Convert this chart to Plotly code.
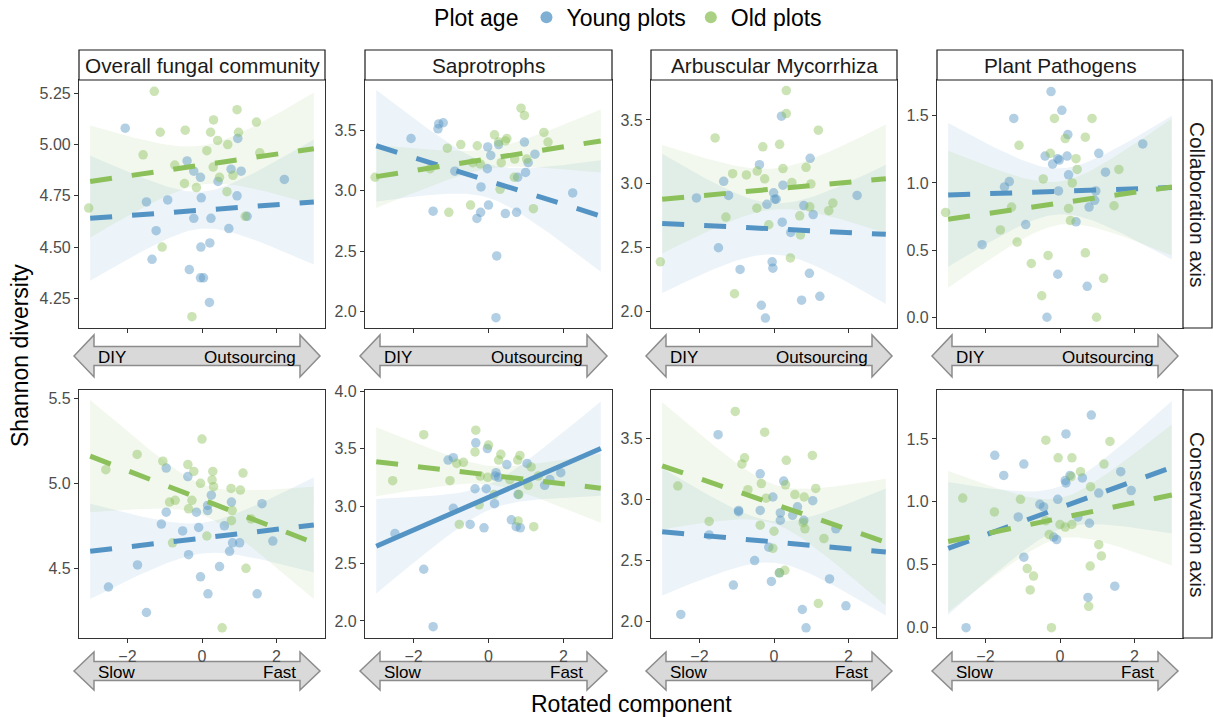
import numpy as np
import plotly.graph_objects as go

W, H = 1213, 717

# ---------------- data ----------------
GROUPS = ["Young plots", "Old plots"]
PANEL_TITLES = ["Overall fungal community", "Saprotrophs", "Arbuscular Mycorrhiza", "Plant Pathogens"]
ROW_TITLES = ["Collaboration axis", "Conservation axis"]
ARROW_LEFT = ["DIY", "Slow"]
ARROW_RIGHT = ["Outsourcing", "Fast"]
X_TICKS = [-2, 0, 2]
X_TICK_TEXT = ["\u22122", "0", "2"]
X_RANGE = [-3.3, 3.3]
Y_RANGES = [[4.105, 5.315], [1.865, 3.913], [1.872, 3.813], [-0.080, 1.766],
            [4.090, 5.549], [1.852, 4.009], [1.867, 3.895], [-0.082, 1.889]]
Y_TICKS = [[4.25, 4.5, 4.75, 5.0, 5.25], [2.0, 2.5, 3.0, 3.5], [2.0, 2.5, 3.0, 3.5], [0.0, 0.5, 1.0, 1.5],
           [4.5, 5.0, 5.5], [2.0, 2.5, 3.0, 3.5, 4.0], [2.0, 2.5, 3.0, 3.5], [0.0, 0.5, 1.0, 1.5]]
Y_FMT = [".2f", ".1f", ".1f", ".1f", ".1f", ".1f", ".1f", ".1f"]

young_x_1 = [-2.06,-0.40,-0.22,-0.04,0.96,0.78,1.05,0.43,2.21,-0.02,0.94,-1.49,-0.92,-0.22,0.24,1.21,-1.23,0.72,-0.03,0.21,-1.34,-0.34,-0.04,0.04,0.20]
young_y_1 = [5.08,4.92,4.87,4.84,5.03,4.88,4.87,4.82,4.83,4.74,4.75,4.72,4.73,4.64,4.64,4.65,4.58,4.59,4.50,4.52,4.44,4.39,4.35,4.35,4.23]
old_x_1 = [-1.28,0.94,0.31,1.46,-1.12,-0.45,0.23,0.98,0.42,0.69,0.13,1.55,-1.58,-0.73,0.30,0.47,0.83,-0.47,-0.15,0.67,-3.04,1.16,-1.07,-0.27]
old_y_1 = [5.26,5.17,5.12,5.11,5.06,5.07,5.06,5.06,5.02,5.00,4.97,4.96,4.95,4.90,4.89,4.84,4.85,4.81,4.79,4.77,4.69,4.65,4.50,4.16]

young_x_2 = [-2.07,-1.33,-1.21,-1.35,-0.90,-0.02,0.06,0.27,-0.03,0.96,1.06,1.24,0.99,0.78,-0.20,2.25,-1.48,-0.21,-0.31,0.00,0.45,0.75,0.22,0.20]
young_y_2 = [3.43,3.55,3.56,3.51,3.16,3.36,3.29,3.38,3.18,3.40,3.23,3.30,3.15,3.11,3.03,2.98,2.83,2.82,2.77,2.88,2.81,2.82,2.46,1.95]
old_x_2 = [-3.03,-1.56,-1.10,-0.74,-0.30,-0.42,-0.22,0.16,0.27,0.45,0.49,0.34,0.31,0.87,0.96,0.70,1.02,0.69,1.48,1.59,-0.48,-1.06,1.20]
old_y_2 = [3.11,3.18,3.35,3.38,3.37,3.23,3.22,3.46,3.40,3.41,3.43,3.23,3.01,3.68,3.62,3.26,3.26,3.11,3.48,3.40,2.88,2.82,2.85]

young_x_3 = [-2.08,-1.35,-1.22,-1.49,-0.91,-0.39,-0.19,-0.01,0.02,0.06,0.24,0.20,0.22,0.45,0.80,1.05,0.97,2.23,-0.05,-0.03,0.95,-0.34,-0.23,0.74,1.23]
young_y_3 = [2.89,3.02,2.91,2.50,2.33,3.15,2.84,2.93,2.88,2.88,2.99,3.53,2.70,2.62,2.83,2.76,3.20,2.91,2.39,2.34,2.30,2.05,1.95,2.09,2.12]
old_x_3 = [-3.05,-1.58,-1.29,-1.11,-0.74,-0.45,-0.30,-0.25,-0.46,-0.14,0.15,0.24,0.33,0.33,0.48,0.44,0.86,0.99,0.96,0.69,0.71,1.19,1.58,1.47,-1.06]
old_y_3 = [2.39,3.36,2.74,3.08,3.07,3.10,3.29,3.04,2.81,2.68,3.31,3.12,3.73,3.55,3.01,2.42,3.13,3.00,2.82,2.75,2.60,3.42,2.85,2.79,2.14]

young_x_4 = [-0.24,0.05,-1.24,0.21,-0.40,-0.20,-0.06,0.19,-0.02,1.04,1.22,0.23,2.22,-1.36,-1.49,-0.04,0.96,0.93,0.78,-0.92,0.43,-2.09,-0.06,0.73,-0.35]
young_y_4 = [1.68,1.54,1.48,1.36,1.20,1.14,1.18,1.20,1.17,1.22,1.08,1.06,1.29,1.01,0.97,0.94,0.94,0.87,0.82,0.69,0.71,0.54,0.32,0.23,0.00]
old_x_4 = [-3.07,-0.15,0.86,0.14,0.68,-1.10,-0.26,0.43,0.46,1.58,-0.45,0.33,-1.30,0.23,1.45,-1.60,0.28,-1.15,-0.32,-0.77,0.68,1.17,-0.49,0.98]
old_y_4 = [0.78,1.48,1.48,1.33,1.34,1.28,1.22,1.18,1.10,1.10,1.03,1.00,0.82,0.81,0.83,0.65,0.72,0.56,0.46,0.40,0.48,0.29,0.16,0.00]

young_x_5 = [-0.96,-0.38,0.25,0.79,1.61,-0.96,0.15,0.15,-0.15,-1.09,-0.52,-0.09,0.60,0.82,1.01,0.74,1.90,-0.36,-1.73,0.47,-2.51,-0.04,0.16,1.48,-1.49]
young_y_5 = [5.09,5.04,4.93,4.89,4.88,4.83,4.87,4.84,4.83,4.76,4.72,4.74,4.75,4.65,4.65,4.60,4.66,4.58,4.52,4.51,4.39,4.45,4.35,4.35,4.24]
old_x_5 = [-2.58,-1.74,-1.05,-0.38,-0.22,0.00,0.29,0.27,0.31,-0.04,1.10,0.78,1.03,-0.87,-0.72,-0.27,-0.36,0.81,0.79,1.32,-0.79,0.13,1.18,0.54]
old_y_5 = [5.08,5.17,5.13,5.11,5.07,5.26,5.07,5.02,4.98,5.00,5.06,4.97,4.96,4.89,4.90,4.90,4.85,4.84,4.78,4.79,4.65,4.69,4.50,4.15]

young_x_6 = [-2.50,-1.73,-1.48,-1.08,-0.94,-0.94,-0.34,-0.03,-0.36,-0.06,-0.49,-0.12,0.20,0.18,0.27,0.16,0.49,0.61,0.79,0.74,0.85,1.03,1.50,1.64,1.93]
young_y_6 = [2.76,2.45,1.95,3.40,3.42,2.98,3.55,3.50,3.15,3.15,2.84,2.81,3.29,3.26,3.25,3.02,3.36,2.88,3.10,2.82,2.81,3.37,3.18,3.23,3.29]
old_x_6 = [-2.56,-1.73,-1.03,-0.85,-0.67,-0.78,-0.34,-0.36,-0.25,0.00,-0.22,-0.02,0.15,0.33,0.27,0.57,0.84,0.78,0.81,1.06,1.14,0.79,1.21,1.33]
old_y_6 = [3.22,3.62,3.22,3.37,3.38,2.84,3.66,3.47,3.01,3.53,3.26,3.25,3.10,3.45,3.40,3.23,3.44,3.40,3.10,3.18,3.34,2.87,2.82,3.26]

young_x_7 = [-2.50,-1.50,-1.74,-0.95,-0.95,-1.09,-0.52,-0.37,-0.37,-0.03,-0.14,-0.07,0.17,0.17,0.26,0.50,0.63,0.80,1.04,0.15,0.76,0.86,1.49,1.66,1.93]
young_y_7 = [2.06,3.53,2.71,2.91,2.90,2.30,2.50,3.21,2.91,3.02,2.61,2.33,2.89,2.83,3.15,2.87,2.94,2.83,2.99,2.40,2.10,1.95,2.35,2.76,2.13]
old_x_7 = [-2.58,-1.04,-0.25,-0.79,-0.86,-1.74,-0.70,-0.34,-0.21,-0.37,0.00,-0.03,0.33,0.31,0.56,0.81,1.12,1.03,0.78,0.83,1.34,0.29,0.14,1.19]
old_y_7 = [3.11,3.72,3.55,3.34,3.29,2.82,3.08,3.13,3.01,2.79,2.74,2.60,3.32,3.12,3.04,3.02,3.09,3.36,2.81,2.76,2.68,2.42,2.40,2.15]

young_x_8 = [-2.52,-1.75,-1.51,-0.97,-1.12,-0.97,-0.54,-0.44,-0.06,-0.17,-0.09,0.16,0.14,0.16,0.27,0.60,0.48,0.79,0.84,1.04,1.63,1.91,0.75,1.47]
young_y_8 = [0.00,1.37,1.21,1.30,0.88,0.56,0.98,0.96,1.02,0.72,0.70,1.54,1.17,1.15,1.21,1.19,0.88,0.83,1.69,1.07,1.24,1.09,0.24,0.33]
old_x_8 = [-2.61,-1.76,-1.06,-0.38,-0.05,0.32,0.55,0.30,0.82,1.18,1.34,-0.38,0.00,0.14,0.32,-0.29,-0.88,-0.71,-0.80,1.04,1.11,0.81,0.77,-0.23]
old_y_8 = [1.03,0.92,1.02,1.49,1.35,1.35,1.24,1.20,1.12,1.30,1.48,0.85,0.82,0.80,0.82,0.74,0.47,0.41,0.30,0.66,0.57,0.49,0.17,0.00]

# fitted line values at x = -3 and x = +3
FIT_X = [-3.0, 3.0]
YOUNG_FIT = [[4.64, 4.72], [3.37, 2.79], [2.69, 2.605], [0.91, 0.965],
             [4.60, 4.755], [2.65, 3.50], [2.735, 2.57], [0.63, 1.275]]
OLD_FIT = [[4.82, 4.98], [3.115, 3.41], [2.88, 3.04], [0.73, 0.97],
           [5.16, 4.65], [3.385, 3.155], [3.275, 2.65], [0.685, 1.055]]
# confidence-band half widths: at centre, at the ends
YOUNG_BAND = [[0.09, 0.305], [0.14, 0.46], [0.20, 0.545], [0.17, 0.535],
              [0.09, 0.28], [0.11, 0.41], [0.17, 0.52], [0.17, 0.527]]
OLD_BAND = [[0.095, 0.273], [0.08, 0.26], [0.16, 0.425], [0.16, 0.51],
            [0.09, 0.33], [0.08, 0.30], [0.16, 0.52], [0.16, 0.56]]
YOUNG_SIGNIF = [False, False, False, False, False, True, False, False]
OLD_SIGNIF = [False] * 8

YOUNG_X = [young_x_1, young_x_2, young_x_3, young_x_4, young_x_5, young_x_6, young_x_7, young_x_8]
YOUNG_Y = [young_y_1, young_y_2, young_y_3, young_y_4, young_y_5, young_y_6, young_y_7, young_y_8]
OLD_X = [old_x_1, old_x_2, old_x_3, old_x_4, old_x_5, old_x_6, old_x_7, old_x_8]
OLD_Y = [old_y_1, old_y_2, old_y_3, old_y_4, old_y_5, old_y_6, old_y_7, old_y_8]

# ---------------- style / layout ----------------
BLUE = (84, 148, 196)
GREEN = (140, 192, 90)
FONT = "Liberation Sans, Arial, sans-serif"
COLS_PX = [(79, 325), (365, 612), (651, 897), (937, 1183)]
ROWS_PX = [(80, 328), (390, 638)]


def px(x):
    return x / W


def py(y):
    return 1 - y / H


def rgba(c, a):
    return f"rgba({c[0]},{c[1]},{c[2]},{a})"


def note(text, x, y, size, color="black", xanchor="center", angle=0):
    return dict(text=text, x=px(x), y=py(y), xref="paper", yref="paper", showarrow=False,
                xanchor=xanchor, yanchor="middle", textangle=angle,
                font=dict(family=FONT, size=size, color=color))


fig = go.Figure()
layout = {}
shapes = []
annotations = []

for k in range(8):
    r, c = divmod(k, 4)
    n = k + 1
    xa = "x" if n == 1 else f"x{n}"
    ya = "y" if n == 1 else f"y{n}"
    L, R = COLS_PX[c]
    T, B = ROWS_PX[r]

    groups = [
        (YOUNG_X[k], YOUNG_Y[k], YOUNG_FIT[k], YOUNG_BAND[k], YOUNG_SIGNIF[k], BLUE),
        (OLD_X[k], OLD_Y[k], OLD_FIT[k], OLD_BAND[k], OLD_SIGNIF[k], GREEN),
    ]
    # ribbons
    for gx, gy, fit, band, sig, col in groups:
        xs = np.linspace(FIT_X[0], FIT_X[1], 61)
        slope = (fit[1] - fit[0]) / (FIT_X[1] - FIT_X[0])
        mid = fit[0] + slope * (0 - FIT_X[0])
        yc = mid + slope * xs
        hw = np.sqrt(band[0] ** 2 + (band[1] ** 2 - band[0] ** 2) * (xs / FIT_X[1]) ** 2)
        fig.add_trace(go.Scatter(
            x=np.concatenate([xs, xs[::-1]]), y=np.concatenate([yc + hw, (yc - hw)[::-1]]),
            fill="toself", fillcolor=rgba(col, 0.11), line=dict(width=0),
            mode="lines", hoverinfo="skip", showlegend=False, xaxis=xa, yaxis=ya))
    # points
    for gx, gy, fit, band, sig, col in groups:
        fig.add_trace(go.Scatter(
            x=gx, y=gy, mode="markers",
            marker=dict(size=9.5, color=rgba(col, 0.45), line=dict(width=0)),
            showlegend=False, xaxis=xa, yaxis=ya))
    # fitted lines
    for gx, gy, fit, band, sig, col in groups:
        fig.add_trace(go.Scatter(
            x=FIT_X, y=fit, mode="lines",
            line=dict(color=rgba(col, 1), width=5, dash="solid" if sig else "22px,20px"),
            showlegend=False, xaxis=xa, yaxis=ya))

    axis_common = dict(showline=True, linecolor="#333333", linewidth=1.2, mirror=True,
                       ticks="outside", ticklen=4, tickcolor="#333333", tickwidth=1.1,
                       showgrid=False, zeroline=False, automargin=False,
                       tickfont=dict(family=FONT, size=16, color="#4d4d4d"))
    layout["xaxis" if n == 1 else f"xaxis{n}"] = dict(
        domain=[px(L), px(R)], range=X_RANGE, tickvals=X_TICKS,
        ticktext=X_TICK_TEXT, showticklabels=(r == 1),
        anchor=ya, **axis_common)
    layout["yaxis" if n == 1 else f"yaxis{n}"] = dict(
        domain=[py(B), py(T)], range=Y_RANGES[k], tickvals=Y_TICKS[k],
        tickformat=Y_FMT[k], anchor=xa, **axis_common)

    # strip (top)
    if r == 0:
        shapes.append(dict(type="rect", xref="paper", yref="paper",
                           x0=px(L), x1=px(R), y0=py(T), y1=py(50),
                           line=dict(color="#1a1a1a", width=1.2), fillcolor="white"))
        annotations.append(note(PANEL_TITLES[c], (L + R) / 2, 65.5, 20.8, "#1a1a1a"))
    # strip (right)
    if c == 3:
        shapes.append(dict(type="rect", xref="paper", yref="paper",
                           x0=px(R), x1=px(1212), y0=py(B), y1=py(T),
                           line=dict(color="#1a1a1a", width=1.2), fillcolor="white"))
        annotations.append(note(ROW_TITLES[r], 1198, (T + B) / 2, 20.8, "#1a1a1a", angle=90))

    # direction arrow under the panel
    ym = 356 if r == 0 else 671
    hh = 21 if r == 0 else 19
    bh = 9.5
    a0, a1 = L - 5, R - 5
    pts = [(a0, ym), (a0 + 20, ym - hh), (a0 + 20, ym - bh), (a1 - 20, ym - bh), (a1 - 20, ym - hh),
           (a1, ym), (a1 - 20, ym + hh), (a1 - 20, ym + bh), (a0 + 20, ym + bh), (a0 + 20, ym + hh)]
    path = "M " + " L ".join(f"{px(x):.5f},{py(y):.5f}" for x, y in pts) + " Z"
    shapes.append(dict(type="path", xref="paper", yref="paper", path=path,
                       fillcolor="#d9d9d9", line=dict(color="#8c8c8c", width=1.5), layer="below"))
    annotations.append(note(ARROW_LEFT[r], a0 + 22, ym + 1, 17, xanchor="left"))
    annotations.append(note(ARROW_RIGHT[r], a1 - 22, ym + 1, 17, xanchor="right"))

# axis titles
annotations.append(note("Shannon diversity", 20, 356, 23, angle=-90))
annotations.append(note("Rotated component", 631, 704, 23))

# legend entries
for name, col in zip(GROUPS, [BLUE, GREEN]):
    fig.add_trace(go.Scatter(x=[None], y=[None], mode="markers", name=name,
                             marker=dict(size=15, color=rgba(col, 0.75)), showlegend=True))

fig.update_layout(
    width=W, height=H, margin=dict(l=0, r=0, t=0, b=0, autoexpand=False),
    paper_bgcolor="white", plot_bgcolor="white",
    font=dict(family=FONT),
    shapes=shapes, annotations=annotations,
    legend=dict(orientation="h", x=0.519, xanchor="center", y=1.006, yanchor="top",
                title=dict(text="Plot age", side="left", font=dict(size=23, color="black")),
                font=dict(size=23, color="black"), itemsizing="constant", bgcolor="rgba(0,0,0,0)"),
    **layout,
)

fig.write_html("out.html", config={"displayModeBar": False},
               post_script="document.body.style.margin='0';document.body.style.padding='0';"
                           "document.body.style.overflow='hidden';")
